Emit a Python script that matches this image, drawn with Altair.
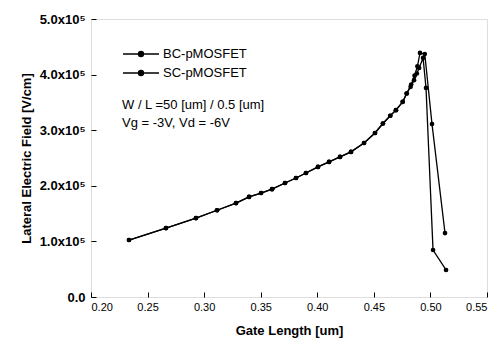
import altair as alt
import pandas as pd

# Gate length [um] and lateral field [x1e5 V/cm]
BC_x = [0.2336, 0.2663, 0.2928, 0.3114, 0.3282, 0.3397, 0.3503, 0.3600, 0.3715, 0.3812,
        0.3900, 0.4006, 0.4104, 0.4201, 0.4298, 0.4413, 0.4510, 0.4580, 0.4645, 0.4695,
        0.4755, 0.4790, 0.4830, 0.4860, 0.4885, 0.4908, 0.4950, 0.5014, 0.5129]
BC_y = [1.025, 1.24, 1.42, 1.56, 1.69, 1.80, 1.87, 1.94, 2.05, 2.14,
        2.23, 2.34, 2.43, 2.52, 2.61, 2.77, 2.95, 3.12, 3.26, 3.36,
        3.51, 3.66, 3.82, 3.98, 4.15, 4.39, 4.37, 3.11, 1.15]
SC_x = [0.2336, 0.2663, 0.2928, 0.3114, 0.3282, 0.3397, 0.3503, 0.3600, 0.3715, 0.3812,
        0.3900, 0.4006, 0.4104, 0.4201, 0.4298, 0.4413, 0.4510, 0.4580, 0.4645, 0.4695,
        0.4755, 0.4790, 0.4825, 0.4855, 0.4880, 0.4900, 0.4935, 0.4961, 0.5023, 0.5138]
SC_y = [1.025, 1.24, 1.42, 1.56, 1.69, 1.80, 1.87, 1.94, 2.05, 2.14,
        2.23, 2.34, 2.43, 2.52, 2.61, 2.77, 2.95, 3.12, 3.26, 3.36,
        3.51, 3.66, 3.78, 3.90, 4.02, 4.12, 4.30, 3.76, 0.845, 0.486]
series_names = ["BC-pMOSFET", "SC-pMOSFET"]

note_text = ["W / L =50 [um] / 0.5 [um]", "Vg = -3V, Vd = -6V"]
note_x = [0.2274, 0.2274]
note_y = [3.45e5, 3.13e5]

x_ticks = [0.20, 0.225, 0.25, 0.275, 0.30, 0.325, 0.35, 0.375, 0.40, 0.425, 0.45, 0.475, 0.50, 0.525, 0.55]
y_ticks = [0, 0.5e5, 1e5, 1.5e5, 2e5, 2.5e5, 3e5, 3.5e5, 4e5, 4.5e5, 5e5]

rows = []
for name, xs, ys in [(series_names[0], BC_x, BC_y), (series_names[1], SC_x, SC_y)]:
    for i, (a, b) in enumerate(zip(xs, ys)):
        rows.append({"series": name, "x": a, "y": b * 1e5, "order": i})
df = pd.DataFrame(rows)
notes = pd.DataFrame({"t": note_text, "x": note_x, "y": note_y})

FONT = "Liberation Sans"
xscale = alt.Scale(domain=[0.20, 0.55], nice=False, zero=False)
yscale = alt.Scale(domain=[0, 5e5], nice=False)

legend_path = "M-2,0H2M0.28,0A0.28,0.28,0,1,1,-0.28,0A0.28,0.28,0,1,1,0.28,0Z"

color = alt.Color("series:N", sort=series_names,
                  scale=alt.Scale(domain=series_names, range=["#000000", "#000000"]),
                  legend=alt.Legend(title=None, orient="none", legendX=40, legendY=25,
                                    symbolType=legend_path, symbolSize=324,
                                    symbolStrokeWidth=1.3, symbolFillColor="#000000",
                                    symbolStrokeColor="#000000",
                                    labelFont=FONT, labelFontSize=13, labelColor="#000",
                                    labelOffset=12, rowPadding=2, padding=0))

x_main = alt.X("x:Q", scale=xscale,
               axis=alt.Axis(values=x_ticks,
                             labelExpr="abs(round(datum.value * 100) % 5) == 0 ? format(datum.value, '.2f') : ''",
                             title="Gate Length [um]", offset=-5, tickSize=5,
                             tickColor="black", tickWidth=1, ticks=True, domain=False,
                             labelFont=FONT, labelFontSize=11, labelPadding=4,
                             titleFont=FONT, titleFontSize=13, titleFontWeight="bold",
                             titlePadding=12, labelColor="black", titleColor="black",
                             grid=False))
y_main = alt.Y("y:Q", scale=yscale,
               axis=alt.Axis(values=y_ticks,
                             labelExpr="datum.value == 0 ? '0.0' : (datum.value % 100000 == 0 ? format(datum.value / 1e5, '.1f') + 'x10\u2075' : '')",
                             title="Lateral Electric Field [V/cm]", offset=-5, tickSize=5,
                             tickColor="black", tickWidth=1, ticks=True, domain=False,
                             labelFont=FONT, labelFontSize=13, labelFontWeight="bold",
                             labelPadding=6, titleFont=FONT, titleFontSize=13,
                             titleFontWeight="bold", titlePadding=6,
                             labelColor="black", titleColor="black", grid=False))

base = alt.Chart(df)
lines = base.mark_line(strokeWidth=1.3).encode(
    x=x_main, y=y_main, color=color, detail="series:N", order="order:Q")
points = base.mark_circle(size=22, opacity=1).encode(
    x=alt.X("x:Q", scale=xscale), y=alt.Y("y:Q", scale=yscale),
    color=alt.Color("series:N", legend=None,
                    scale=alt.Scale(domain=series_names, range=["#000000", "#000000"])))

text = alt.Chart(notes).mark_text(align="left", baseline="middle", font=FONT,
                                  fontSize=13, color="#000").encode(
    x=alt.X("x:Q", scale=xscale), y=alt.Y("y:Q", scale=yscale), text="t:N")

chart = alt.layer(lines, points, text).properties(
    width=396, height=278,
    autosize=alt.AutoSizeParams(type="none"),
    padding={"left": 91, "top": 19, "right": 13, "bottom": 48},
).configure_view(stroke="black", strokeWidth=1.5).configure(background="white")

chart.save("out.html", embed_options={"renderer": "svg", "actions": False})
